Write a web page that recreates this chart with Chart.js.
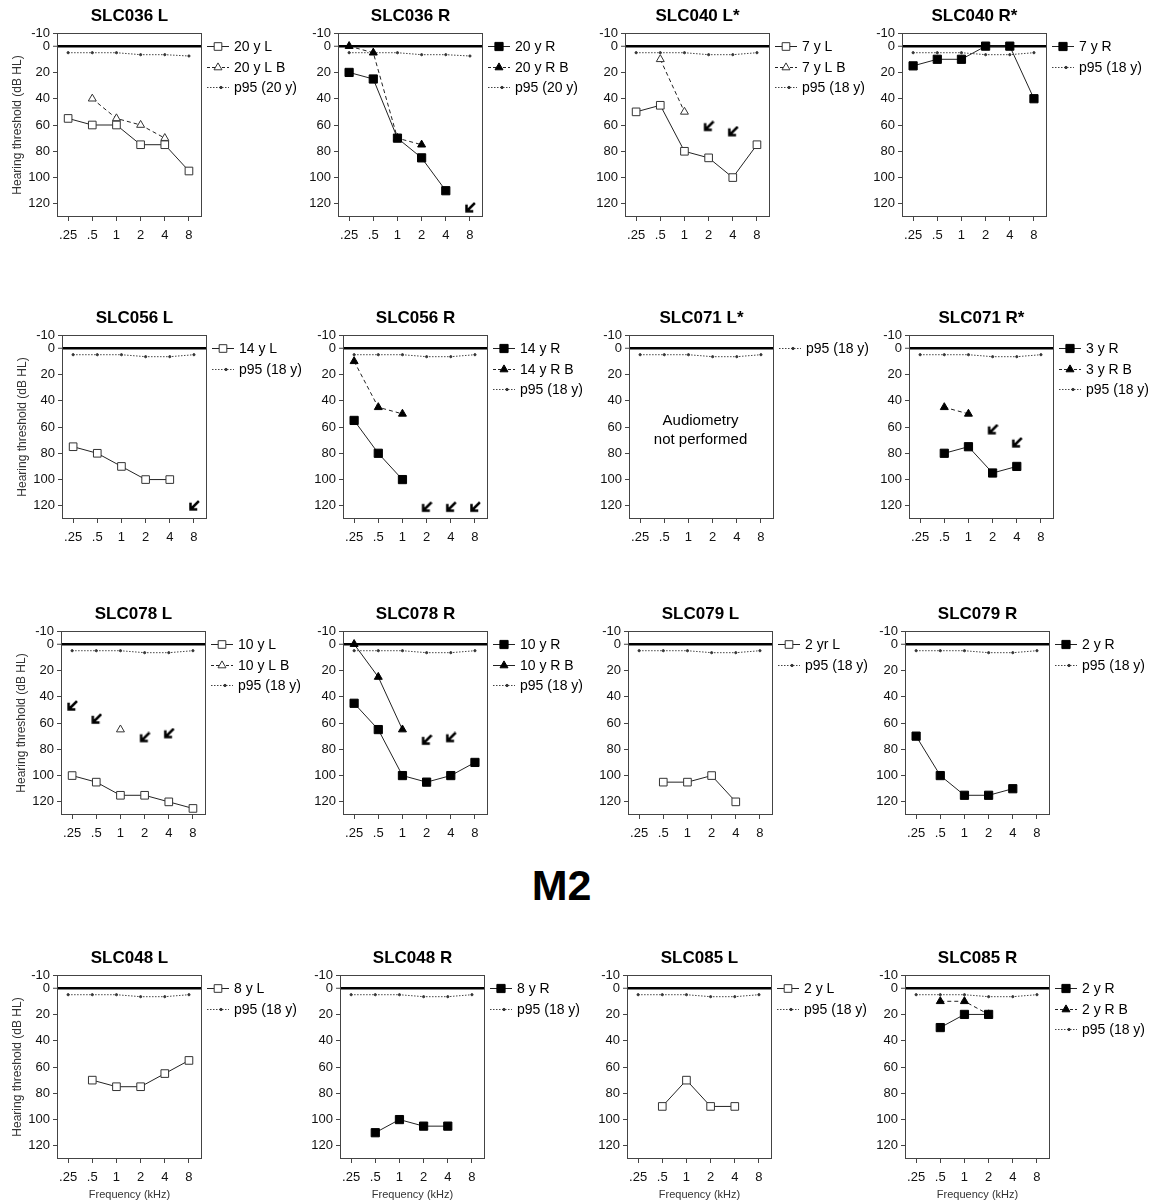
<!DOCTYPE html>
<html>
<head>
<meta charset="utf-8">
<title>Audiograms</title>
<script src="https://cdn.jsdelivr.net/npm/chart.js@4.4.1/dist/chart.umd.min.js"></script>
<style>
  html, body { margin: 0; padding: 0; background: #fff; }
  body { position: relative; width: 1161px; height: 1202px; overflow: hidden; font-family: 'Liberation Sans', Arial, sans-serif; }
  canvas.panel { position: absolute; }
  #group { position: absolute; left: -19px; width: 1161px; top: 860px; text-align: center; font-weight: bold; font-size: 43px; line-height: 50px; }
</style>
</head>
<body>
<div id="group">M2</div>
<script>
// frequency axis (kHz) and threshold ticks (dB HL)
const FREQS = ['.25', '.5', '1', '2', '4', '8'];
const DB_TICKS = [-10, 0, 20, 40, 60, 80, 100, 120];

// normative p95 curves
const P95_20Y = [5, 5, 5, 6.5, 6.5, 7.5];
const P95_18Y = [5, 5, 5, 6.5, 6.5, 5];

// thresholds per ear, null = not measured; *_B = bone conduction; *_NR = no response arrows
const SLC036_L    = [55, 60, 60, 75, 75, 95];
const SLC036_L_B  = [null, 40, 55, 60, 70, null];
const SLC036_R    = [20, 25, 70, 85, 110, null];
const SLC036_R_B  = [0, 5, 70, 75, null, null];
const SLC036_R_NR = [null, null, null, null, null, 123];

const SLC040_L    = [50, 45, 80, 85, 100, 75];
const SLC040_L_B  = [null, 10, 50, null, null, null];
const SLC040_L_NR = [null, null, null, 61, 65, null];
const SLC040_R    = [15, 10, 10, 0, 0, 40];

const SLC056_L    = [75, 80, 90, 100, 100, null];
const SLC056_L_NR = [null, null, null, null, null, 120];
const SLC056_R    = [55, 80, 100, null, null, null];
const SLC056_R_B  = [10, 45, 50, null, null, null];
const SLC056_R_NR = [null, null, null, 121, 121, 121];

const SLC071_R    = [null, 80, 75, 95, 90, null];
const SLC071_R_B  = [null, 45, 50, null, null, null];
const SLC071_R_NR = [null, null, null, 62, 72, null];

const SLC078_L    = [100, 105, 115, 115, 120, 125];
const SLC078_L_B  = [null, null, 65, null, null, null];
const SLC078_L_NR = [47, 57, null, 71, 68, null];
const SLC078_R    = [45, 65, 100, 105, 100, 90];
const SLC078_R_B  = [0, 25, 65, null, null, null];
const SLC078_R_NR = [null, null, null, 73, 71, null];

const SLC079_L    = [null, 105, 105, 100, 120, null];
const SLC079_R    = [70, 100, 115, 115, 110, null];

// M2
const SLC048_L    = [null, 70, 75, 75, 65, 55];
const SLC048_R    = [null, 110, 100, 105, 105, null];
const SLC085_L    = [null, 90, 70, 90, 90, null];
const SLC085_R    = [null, 30, 20, 20, null, null];
const SLC085_R_B  = [null, 10, 10, 20, null, null];

// layout: plot box top per row, plot box left per row/col
const ROW_TOPS = [33, 335, 631, 975];
const COL_LEFTS = [
  [57, 338, 625, 902],
  [62, 343, 629, 909],
  [61, 343, 628, 905],
  [57, 340, 627, 905]
];

const PANELS = [
  { title: 'SLC036 L', row: 0, col: 0, nr: null, series: [['20 y L', SLC036_L, 'openSq'], ['20 y L B', SLC036_L_B, 'openTri', true], ['p95 (20 y)', P95_20Y, 'p95']] },
  { title: 'SLC036 R', row: 0, col: 1, nr: SLC036_R_NR, series: [['20 y R', SLC036_R, 'fillSq'], ['20 y R B', SLC036_R_B, 'fillTri', true], ['p95 (20 y)', P95_20Y, 'p95']] },
  { title: 'SLC040 L*', row: 0, col: 2, nr: SLC040_L_NR, series: [['7 y L', SLC040_L, 'openSq'], ['7 y L B', SLC040_L_B, 'openTri', true], ['p95 (18 y)', P95_18Y, 'p95']] },
  { title: 'SLC040 R*', row: 0, col: 3, nr: null, series: [['7 y R', SLC040_R, 'fillSq'], ['p95 (18 y)', P95_18Y, 'p95']] },

  { title: 'SLC056 L', row: 1, col: 0, nr: SLC056_L_NR, series: [['14 y L', SLC056_L, 'openSq'], ['p95 (18 y)', P95_18Y, 'p95']] },
  { title: 'SLC056 R', row: 1, col: 1, nr: SLC056_R_NR, series: [['14 y R', SLC056_R, 'fillSq'], ['14 y R B', SLC056_R_B, 'fillTri', true], ['p95 (18 y)', P95_18Y, 'p95']] },
  { title: 'SLC071 L*', row: 1, col: 2, nr: null, note: ['Audiometry', 'not performed'], series: [['p95 (18 y)', P95_18Y, 'p95']] },
  { title: 'SLC071 R*', row: 1, col: 3, nr: SLC071_R_NR, series: [['3 y R', SLC071_R, 'fillSq'], ['3 y R B', SLC071_R_B, 'fillTri', true], ['p95 (18 y)', P95_18Y, 'p95']] },

  { title: 'SLC078 L', row: 2, col: 0, nr: SLC078_L_NR, series: [['10 y L', SLC078_L, 'openSq'], ['10 y L B', SLC078_L_B, 'openTri', true], ['p95 (18 y)', P95_18Y, 'p95']] },
  { title: 'SLC078 R', row: 2, col: 1, nr: SLC078_R_NR, series: [['10 y R', SLC078_R, 'fillSq'], ['10 y R B', SLC078_R_B, 'fillTri'], ['p95 (18 y)', P95_18Y, 'p95']] },
  { title: 'SLC079 L', row: 2, col: 2, nr: null, series: [['2 yr L', SLC079_L, 'openSq'], ['p95 (18 y)', P95_18Y, 'p95']] },
  { title: 'SLC079 R', row: 2, col: 3, nr: null, series: [['2 y R', SLC079_R, 'fillSq'], ['p95 (18 y)', P95_18Y, 'p95']] },

  { title: 'SLC048 L', row: 3, col: 0, nr: null, series: [['8 y L', SLC048_L, 'openSq'], ['p95 (18 y)', P95_18Y, 'p95']] },
  { title: 'SLC048 R', row: 3, col: 1, nr: null, series: [['8 y R', SLC048_R, 'fillSq'], ['p95 (18 y)', P95_18Y, 'p95']] },
  { title: 'SLC085 L', row: 3, col: 2, nr: null, series: [['2 y L', SLC085_L, 'openSq'], ['p95 (18 y)', P95_18Y, 'p95']] },
  { title: 'SLC085 R', row: 3, col: 3, nr: null, series: [['2 y R', SLC085_R, 'fillSq'], ['2 y R B', SLC085_R_B, 'fillTri', true], ['p95 (18 y)', P95_18Y, 'p95']] }
];

const INK = '#222';
const STYLES = {
  openSq:  { point: 'rect', r: 5.4, fill: '#fff', edge: '#333' },
  fillSq:  { point: 'rect', r: 5.8, fill: '#000', edge: '#000' },
  openTri: { point: 'triangle', r: 4.6, fill: '#fff', edge: '#333' },
  fillTri: { point: 'triangle', r: 4.6, fill: '#000', edge: '#000' },
  p95:     { point: 'circle', r: 1.1, fill: '#333', edge: '#333' }
};

const BOX_W = 145, BOX_H = 184, LEFT_W = 57, TOP_H = 33, BOTTOM_H = 45, RIGHT_W = 100;

Chart.defaults.font.family = "'Liberation Sans', Arial, sans-serif";
Chart.defaults.color = '#111';

function drawMarker(ctx, kind, x, y) {
  const st = STYLES[kind];
  ctx.fillStyle = st.fill;
  ctx.strokeStyle = st.edge;
  ctx.lineWidth = 1;
  ctx.beginPath();
  if (st.point === 'rect') {
    const h = st.r * Math.SQRT1_2;
    ctx.rect(x - h, y - h, 2 * h, 2 * h);
  } else if (st.point === 'triangle') {
    for (let k = 0; k < 3; k++) {
      const a = k * 2 * Math.PI / 3;
      const px = x + Math.sin(a) * st.r, py = y - Math.cos(a) * st.r;
      k === 0 ? ctx.moveTo(px, py) : ctx.lineTo(px, py);
    }
    ctx.closePath();
  } else {
    ctx.arc(x, y, 1.2, 0, Math.PI * 2);
  }
  ctx.fill();
  ctx.stroke();
}

// little "line + marker" key used in the legends
function legendSymbol(kind, dash) {
  const c = document.createElement('canvas');
  c.width = 24; c.height = 12;
  const ctx = c.getContext('2d');
  ctx.strokeStyle = kind === 'p95' ? '#444' : INK;
  ctx.lineWidth = 1;
  if (kind === 'p95') ctx.setLineDash([1.5, 1.5]);
  else if (dash) ctx.setLineDash([3, 2]);
  ctx.beginPath();
  ctx.moveTo(1, 6.5); ctx.lineTo(23, 6.5);
  ctx.stroke();
  ctx.setLineDash([]);
  drawMarker(ctx, kind, kind === 'p95' ? 15 : 12, 6.5);
  return c;
}

// bold "no response" arrow pointing down-left
function arrowImage() {
  const c = document.createElement('canvas');
  c.width = 12; c.height = 12;
  const ctx = c.getContext('2d');
  ctx.strokeStyle = '#000';
  ctx.lineWidth = 2.5;
  ctx.lineCap = 'square';
  ctx.beginPath();
  ctx.moveTo(10, 2); ctx.lineTo(3, 9);
  ctx.moveTo(2.5, 4); ctx.lineTo(2.5, 9.5); ctx.lineTo(8, 9.5);
  ctx.stroke();
  return c;
}
const ARROW = arrowImage();

const decor = {
  id: 'decor',
  beforeDatasetsDraw(chart) {
    const { ctx, chartArea: a } = chart;
    ctx.save();
    ctx.strokeStyle = '#444';
    ctx.lineWidth = 1;
    ctx.strokeRect(Math.round(a.left) + 0.5, Math.round(a.top) + 0.5, Math.round(a.width) - 1, Math.round(a.height) - 1);
    ctx.restore();
  },
  afterDraw(chart, args, opts) {
    const { ctx, chartArea: a, scales } = chart;
    const y0 = scales.y.getPixelForValue(0);
    ctx.save();
    ctx.font = "14px 'Liberation Sans', Arial, sans-serif";
    ctx.fillStyle = '#000';
    ctx.textBaseline = 'middle';
    ctx.textAlign = 'left';
    let i = 0;
    chart.data.datasets.forEach(ds => {
      if (!ds.sym) return;
      const y = y0 + i * 20.5;
      ctx.drawImage(ds.sym, a.right + 4, Math.round(y - 6));
      ctx.fillText(ds.label, a.right + 32, y + 1);
      i++;
    });
    if (opts.note) {
      ctx.font = "15px 'Liberation Sans', Arial, sans-serif";
      ctx.textAlign = 'center';
      const cx = scales.x.getPixelForValue(2.5);
      opts.note.forEach((line, k) => {
        ctx.fillText(line, cx, scales.y.getPixelForValue(55 + k * 14.5));
      });
    }
    ctx.restore();
  }
};

function toPoints(values) {
  return values.map((v, i) => (v === null ? null : { x: i, y: v })).filter(Boolean);
}

function makeDatasets(p) {
  const sets = p.series.map(([label, values, kind, dash]) => {
    const st = STYLES[kind];
    return {
      label,
      data: toPoints(values),
      sym: legendSymbol(kind, dash),
      borderColor: kind === 'p95' ? '#444' : INK,
      borderWidth: 1,
      borderDash: kind === 'p95' ? [1.5, 1.5] : (dash ? [4, 3] : []),
      pointStyle: st.point,
      pointRadius: st.r,
      pointBackgroundColor: st.fill,
      pointBorderColor: st.edge,
      pointBorderWidth: 1,
      tension: 0,
      fill: false
    };
  });
  if (p.nr) {
    sets.push({
      label: 'no response',
      data: toPoints(p.nr),
      showLine: false,
      pointStyle: ARROW,
      pointRadius: 6
    });
  }
  return sets;
}

PANELS.forEach(p => {
  const canvas = document.createElement('canvas');
  canvas.className = 'panel';
  canvas.width = LEFT_W + BOX_W + RIGHT_W;
  canvas.height = TOP_H + BOX_H + BOTTOM_H;
  canvas.style.left = (COL_LEFTS[p.row][p.col] - LEFT_W) + 'px';
  canvas.style.top = (ROW_TOPS[p.row] - TOP_H) + 'px';
  document.body.appendChild(canvas);

  new Chart(canvas, {
    type: 'line',
    data: { datasets: makeDatasets(p) },
    plugins: [decor],
    options: {
      responsive: false,
      animation: false,
      events: [],
      layout: { padding: { left: 0, right: RIGHT_W, top: 0, bottom: 0 } },
      plugins: {
        legend: { display: false },
        tooltip: { enabled: false },
        title: {
          display: true,
          text: p.title,
          fullSize: false,
          color: '#000',
          font: { size: 17, weight: 'bold' },
          padding: { top: 6.5, bottom: 6.1 }
        },
        decor: { note: p.note || null }
      },
      scales: {
        x: {
          type: 'linear',
          min: -0.46,
          max: 5.54,
          afterBuildTicks: s => { s.ticks = FREQS.map((f, i) => ({ value: i })); },
          afterFit: s => { s.height = BOTTOM_H; },
          border: { display: false },
          grid: { drawOnChartArea: false, color: '#444', tickLength: 4 },
          ticks: { callback: v => FREQS[v], font: { size: 13 }, color: '#111', padding: 7, maxRotation: 0, autoSkip: false },
          title: { display: p.row === 3, text: 'Frequency (kHz)', font: { size: 11 }, color: '#333', padding: { top: 0, bottom: 2 } }
        },
        y: {
          reverse: true,
          min: -10,
          max: 130,
          afterBuildTicks: s => { s.ticks = DB_TICKS.map(v => ({ value: v })); },
          afterFit: s => { s.width = LEFT_W; },
          border: { display: false },
          grid: {
            drawOnChartArea: true,
            color: c => (c.tick && c.tick.value === 0 ? '#000' : 'rgba(0,0,0,0)'),
            lineWidth: c => (c.tick && c.tick.value === 0 ? 2.5 : 1),
            tickColor: '#444',
            tickWidth: 1,
            tickLength: 4
          },
          ticks: { font: { size: 13 }, color: '#111', padding: 3, autoSkip: false },
          title: { display: p.col === 0, text: 'Hearing threshold (dB HL)', font: { size: 12 }, color: '#333', padding: { top: 10, bottom: 0 } }
        }
      }
    }
  });
});
</script>
</body>
</html>
